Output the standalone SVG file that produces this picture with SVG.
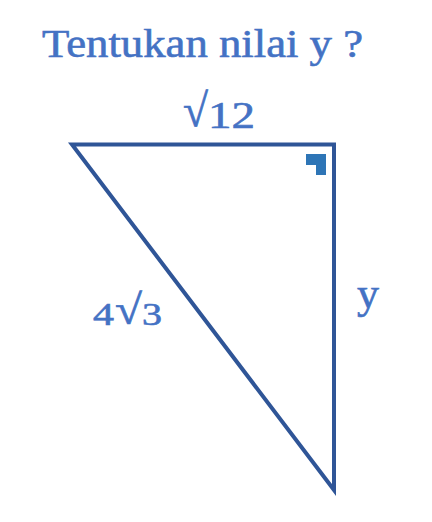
<svg xmlns="http://www.w3.org/2000/svg" width="432" height="522" viewBox="0 0 432 522">
<style>
.t{font-family:"Liberation Serif","DejaVu Serif",serif;fill:#4472C4;stroke:#4472C4;stroke-width:0.6}
</style>
<rect width="432" height="522" fill="#fff"/>
<g id="title"><text class="t" x="42" y="57" font-size="40" textLength="321" lengthAdjust="spacingAndGlyphs">Tentukan nilai y ?</text></g>
<g id="triangle">
<polygon points="72,144.5 334,144.5 334,490" fill="none" stroke="#2F5597" stroke-width="4" stroke-linejoin="miter" stroke-miterlimit="10"/>
<path d="M306,154H326V175H316V165H306Z" fill="#2E75B6"/>
</g>
<g id="labels">
<g id="label-top"><text class="t" x="183" y="126" font-size="46" textLength="25" lengthAdjust="spacingAndGlyphs">√</text><text class="t" x="208" y="128" font-size="38" textLength="47" lengthAdjust="spacingAndGlyphs">12</text></g>
<g id="label-hyp"><text class="t" x="93" y="325" font-size="32" textLength="21" lengthAdjust="spacingAndGlyphs">4</text><text class="t" x="115" y="324" font-size="42" textLength="27" lengthAdjust="spacingAndGlyphs">√</text><text class="t" x="142" y="325" font-size="32" textLength="20" lengthAdjust="spacingAndGlyphs">3</text></g>
<g id="label-y"><text class="t" x="357" y="308" font-size="44">y</text></g>
</g>
</svg>
